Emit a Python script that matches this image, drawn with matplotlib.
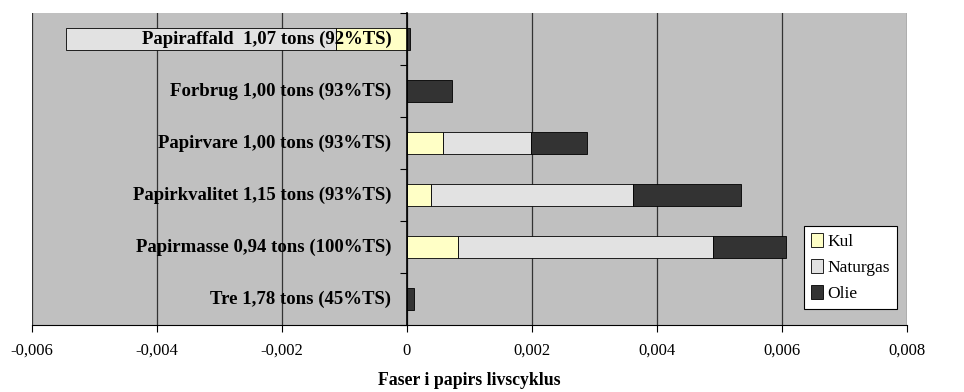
import numpy as np
import matplotlib.pyplot as plt
from matplotlib.ticker import FuncFormatter, FixedLocator

# faser (oppefra og ned) og bidrag fra hver energikilde
faser = ["Papiraffald  1,07 tons (92%TS)",
         "Forbrug 1,00 tons (93%TS)",
         "Papirvare 1,00 tons (93%TS)",
         "Papirkvalitet 1,15 tons (93%TS)",
         "Papirmasse 0,94 tons (100%TS)",
         "Tre 1,78 tons (45%TS)"]
kul = [-0.00114, 0.0, 0.00057, 0.00038, 0.00082, 0.0]
naturgas = [-0.00431, 0.0, 0.00141, 0.00324, 0.00408, 0.0]
olie = [0.00005, 0.00072, 0.00090, 0.00173, 0.00117, 0.00012]

serie_navne = ["Kul", "Naturgas", "Olie"]
farver = ["#FFFFC6", "#E2E2E2", "#333333"]

plt.rcParams['font.family'] = ['Liberation Serif', 'DejaVu Serif']

fig = plt.figure(figsize=(9.64, 3.92), dpi=100)
ax = fig.add_axes([0.033, 0.171, 0.908, 0.796])
ax.set_facecolor("#C0C0C0")

y = np.arange(len(faser))[::-1]
h = 0.42
pos_base = np.zeros(len(faser))
neg_base = np.zeros(len(faser))
for navn, vals, farve in zip(serie_navne, [kul, naturgas, olie], farver):
    vals = np.array(vals)
    base = np.where(vals >= 0, pos_base, neg_base)
    ax.barh(y, vals, left=base, height=h, color=farve, edgecolor="black",
            linewidth=0.6, label=navn, zorder=3)
    pos_base += np.where(vals >= 0, vals, 0)
    neg_base += np.where(vals < 0, vals, 0)

# etiketter inde i plottet, højrestillet mod nul-aksen
for yi, txt in zip(y, faser):
    ax.text(-0.00025, yi, txt, ha="right", va="center", fontsize=13.5,
            fontweight="bold", zorder=5)

ax.set_xlim(-0.006, 0.008)
ax.set_ylim(-0.5, len(faser) - 0.5)
ax.xaxis.set_major_locator(FixedLocator(np.arange(-0.006, 0.0081, 0.002)))
ax.xaxis.set_major_formatter(FuncFormatter(
    lambda v, p: "0" if abs(v) < 1e-9 else f"{v:.3f}".replace(".", ",")))
ax.grid(axis="x", color="#333333", linewidth=0.9, zorder=1)
ax.set_axisbelow(True)

ax.spines["top"].set_visible(False)
ax.spines["right"].set_visible(False)
ax.spines["left"].set_position(("data", 0))
ax.spines["left"].set_zorder(4)
ax.spines["left"].set_linewidth(1.2)
ax.spines["bottom"].set_linewidth(0.8)
ax.set_yticks(np.arange(-0.5, len(faser), 1.0))
ax.set_yticklabels([])
ax.tick_params(axis="y", direction="out", length=5, width=0.8)
ax.tick_params(axis="x", direction="out", length=5, width=0.8, labelsize=12, pad=8)

ax.set_xlabel("Faser i papirs livscyklus", fontsize=12.8, fontweight="bold", labelpad=9)

leg = ax.legend(loc="lower right", bbox_to_anchor=(0.998, 0.024), fontsize=12.5,
                frameon=True, fancybox=False, edgecolor="black", framealpha=1,
                handlelength=0.7, handleheight=0.9, handletextpad=0.25,
                borderpad=0.4, labelspacing=0.5)
leg.get_frame().set_linewidth(0.8)

fig.savefig("out.png", dpi=100)
